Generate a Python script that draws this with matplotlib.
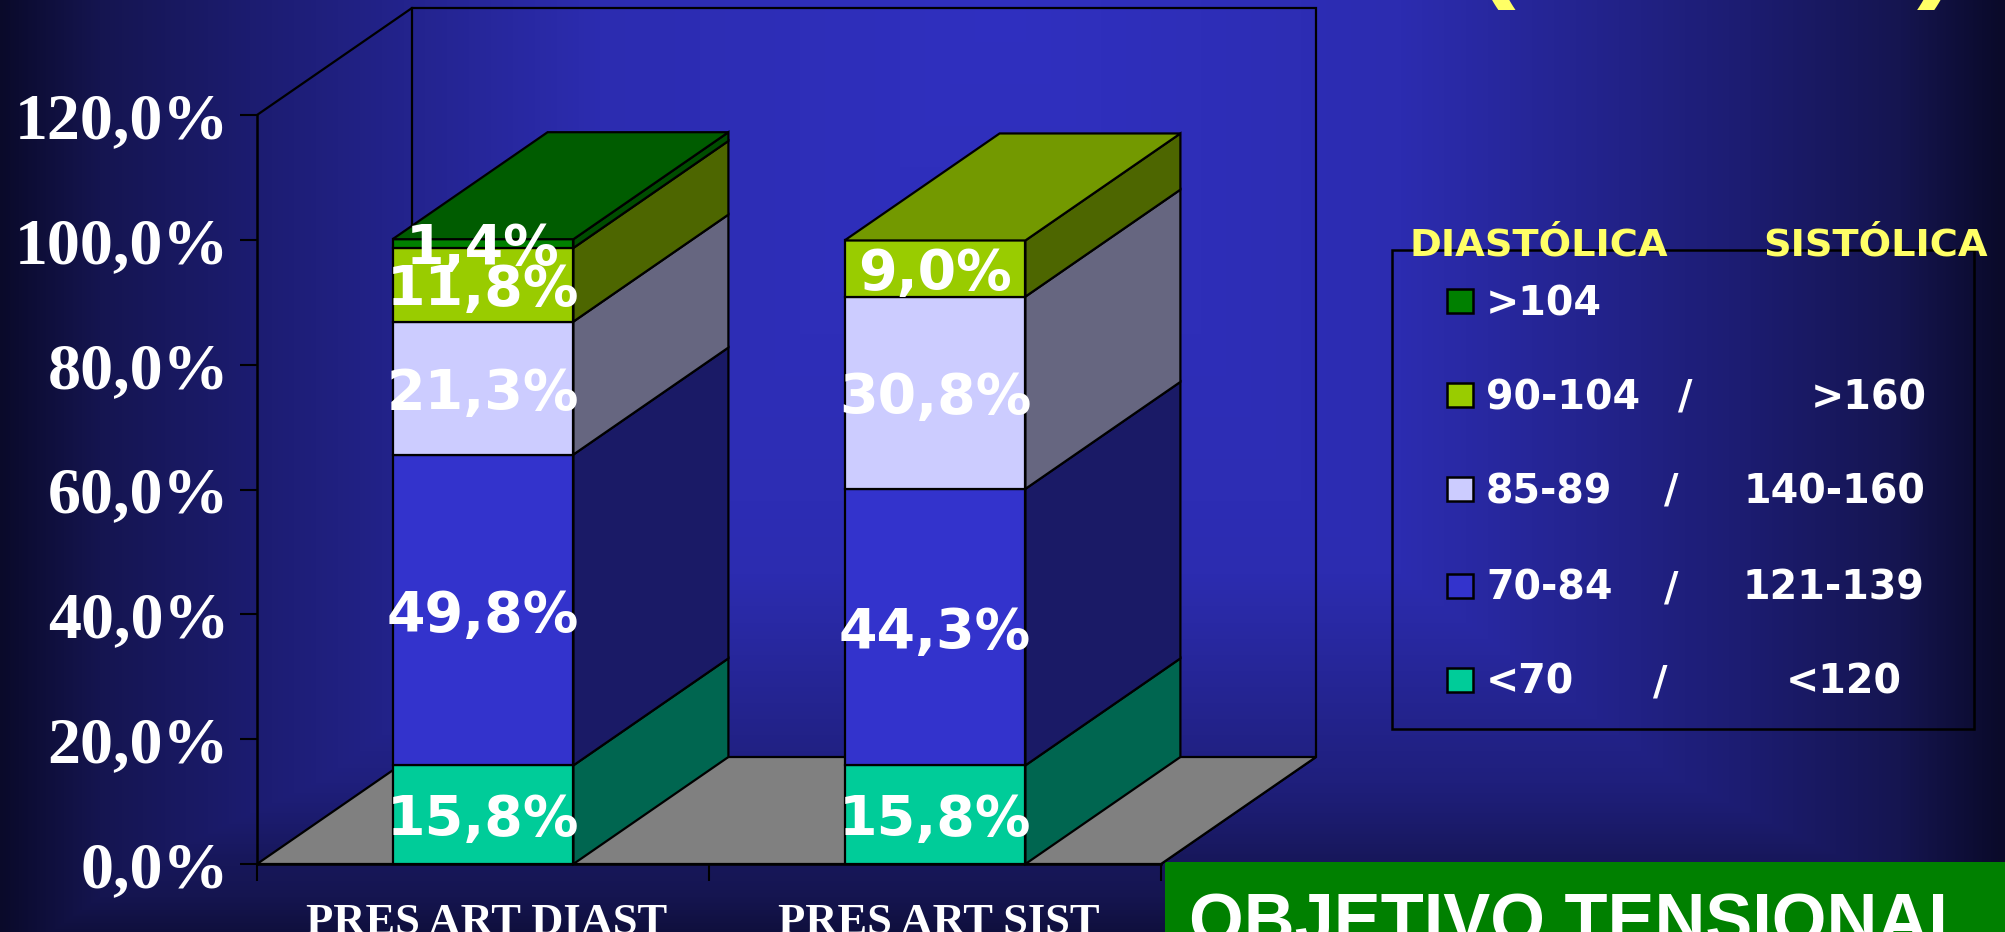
import numpy as np
import matplotlib
matplotlib.use("Agg")
from matplotlib import pyplot as plt
from matplotlib.patches import Polygon, Rectangle

# values, bottom segment first
categories = ["PRES ART DIAST", "PRES ART SIST"]
diast = [15.8, 49.8, 21.3, 11.8, 1.4]
sist = [15.8, 44.3, 30.8, 9.0, 0.0]
yticks = [0, 20, 40, 60, 80, 100, 120]

front = ["#00cc99", "#3333cc", "#ccccff", "#99cc00", "#008000"]
side = ["#006650", "#1a1a66", "#666680", "#4d6600", "#004d00"]
top = ["#006650", "#1a1a66", "#666680", "#739900", "#005c00"]

W, H = 2005, 932
fig = plt.figure(figsize=(W / 100, H / 100), dpi=100)

# background gradient, brightest behind the chart
bg = fig.add_axes([0, 0, 1, 1], zorder=0)
xx, yy = np.meshgrid(np.arange(W), np.arange(H))
t_y = np.interp(yy, [0, 500, 780, 860, 932], [0, 0.3, 0.68, 0.85, 0.95])
t = np.maximum(np.abs(xx - 1000) / 1000, t_y)
stops = [0, 0.4, 0.75, 0.9, 1]
rgb = np.dstack([
    np.interp(t, stops, [0x30, 0x2c, 0x1c, 0x15, 0x0a]),
    np.interp(t, stops, [0x30, 0x2c, 0x1c, 0x15, 0x0a]),
    np.interp(t, stops, [0xc0, 0xb0, 0x70, 0x50, 0x2a]),
]) / 255
bg.imshow(rgb, aspect="auto", extent=(0, W, H, 0))
bg.set_xlim(0, W)
bg.set_ylim(H, 0)
bg.axis("off")

ax = fig.add_axes([257 / W, (H - 864) / H, 904 / W, 749 / H], zorder=1)
ax.patch.set_alpha(0)
ax.set_xlim(0, 2)
ax.set_ylim(0, 120)

# depth of the 3d box, in data units
dx = 155 / 452
dy = 107 * 120 / 749
bar_w = 0.4
lw = 1.6

# walls and floor
ax.add_patch(Polygon([(0, 120), (dx, 120 + dy), (2 + dx, 120 + dy), (2 + dx, dy), (2, 0)],
                     closed=False, fill=False, ec="k", lw=lw, clip_on=False))
ax.plot([dx, dx], [dy, 120 + dy], color="k", lw=lw, clip_on=False)
ax.add_patch(Polygon([(0, 0), (dx, dy), (2 + dx, dy), (2, 0)], fc="#808080", ec="k", lw=lw,
                     clip_on=False))


def draw_bar(center, values):
    left = center - bar_w / 2
    right = center + bar_w / 2
    base = 0
    last = len([v for v in values if v > 0]) - 1
    for i, v in enumerate(values):
        if v == 0:
            continue
        h = base + v
        ax.add_patch(Polygon([(right, base), (right + dx, base + dy), (right + dx, h + dy), (right, h)],
                             fc=side[i], ec="k", lw=lw, clip_on=False, zorder=3))
        ax.add_patch(Rectangle((left, base), bar_w, v, fc=front[i], ec="k", lw=lw, clip_on=False,
                               zorder=3))
        if i == last:
            ax.add_patch(Polygon([(left, h), (left + dx, h + dy), (right + dx, h + dy), (right, h)],
                                 fc=top[i], ec="k", lw=lw, clip_on=False, zorder=3))
        ax.text(center, base + v / 2 - 0.9, ("%.1f%%" % v).replace(".", ","), color="white",
                ha="center", va="center", fontsize=40, family="DejaVu Sans", fontweight="bold",
                zorder=5)
        base = h


draw_bar(0.5, diast)
draw_bar(1.5, sist)

for s in ["top", "right"]:
    ax.spines[s].set_visible(False)
for s in ["left", "bottom"]:
    ax.spines[s].set_linewidth(1.8)
    ax.spines[s].set_zorder(4)

ax.set_yticks(yticks)
ax.set_yticklabels(["%d,0%%" % v for v in yticks], family="Liberation Serif", fontweight="bold",
                   fontsize=47.5, color="white")
ax.tick_params(axis="y", length=12, width=1.5, pad=8)
ax.set_xticks([0, 1, 2])
ax.set_xticklabels([])
ax.tick_params(axis="x", which="major", length=12, width=1.5)
ax.set_xticks([0.508, 1.508], minor=True)
ax.set_xticklabels(categories, minor=True, family="Liberation Serif", fontweight="bold", fontsize=32,
                   color="white")
ax.tick_params(axis="x", which="minor", length=0, pad=28)

# legend box and everything right of the chart, pixel coords on bg axes
bg.add_patch(Rectangle((1392, 250), 582, 479, fill=False, ec="k", lw=1.8, zorder=3))
bg.text(1410, 255, "DIASTÓLICA", color="#ffff66", fontsize=27.6, family="DejaVu Sans", fontweight="bold",
        va="baseline", ha="left", zorder=4)
bg.text(1763, 255, "SISTÓLICA", color="#ffff66", fontsize=27.6, family="DejaVu Sans", fontweight="bold",
        va="baseline", ha="left", zorder=4)

legend_y = [301, 395, 489, 586, 680]
legend_left = [">104", "90-104", "85-89", "70-84", "<70"]
legend_right = ["", ">160", "140-160", "121-139", "<120"]
legend_colors = ["#008000", "#99cc00", "#ccccff", "#3333cc", "#00cc99"]
slash_x = [None, 1685, 1671, 1671, 1660]
right_x = [None, 1927, 1925, 1924, 1902]
for i, y in enumerate(legend_y):
    bg.add_patch(Rectangle((1447, y - 12), 26, 24, fc=legend_colors[i], ec="k", lw=1.8, zorder=3))
    bg.text(1486, y + 14, legend_left[i], color="white", fontsize=28.5, family="DejaVu Sans",
            fontweight="bold", va="baseline", ha="left", zorder=4)
    if legend_right[i]:
        bg.text(slash_x[i], y + 14, "/", color="white", fontsize=28.5, family="DejaVu Sans",
                fontweight="bold", va="baseline", ha="center", zorder=4)
        bg.text(right_x[i], y + 14, legend_right[i], color="white", fontsize=28.5, family="DejaVu Sans",
                fontweight="bold", va="baseline", ha="right", zorder=4)

# green banner, cut off by the bottom edge
bg.add_patch(Rectangle((1165, 862), 840, 70, fc="#008000", ec="none", zorder=3))
bg.text(1189, 892, "OBJETIVO TENSIONAL", color="white", fontsize=50.7, family="Liberation Sans",
        fontweight="bold", va="top", ha="left", zorder=4, clip_on=True)

# only the feet of the title brackets are left on the slide
bg.text(1495, 10, "(", color="#ffff66", fontsize=90, family="Liberation Sans", fontweight="bold",
        va="bottom", ha="center", zorder=4, clip_on=True)
bg.text(1938, 10, ")", color="#ffff66", fontsize=90, family="Liberation Sans", fontweight="bold",
        va="bottom", ha="center", zorder=4, clip_on=True)

fig.savefig("out.png", dpi=100)
